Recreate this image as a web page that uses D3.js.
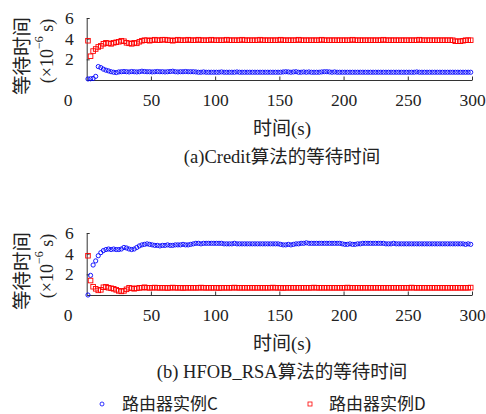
<!DOCTYPE html>
<html lang="zh">
<head>
<meta charset="UTF-8" />
<title>等待时间</title>
<script src="https://cdn.jsdelivr.net/npm/d3@7"></script>
<style>
  body { margin: 0; background: #fff; }
  svg text { font-family: "Liberation Serif", "Noto Sans CJK SC", serif; fill: #222; }
  .cjk { font-family: "Noto Sans CJK SC", sans-serif; }
</style>
</head>
<body>
<svg id="svg"></svg>
<script>
  // sample times (s), one point every 2 s
  const times = d3.range(1, 300, 2);
  const xTicks = [50, 100, 150, 200, 250, 300];
  const yTicks = [2, 4, 6];

  // (a) Credit
  const creditC = [
    0.1, 0.12, 0.15, 0.35, 1.3, 1.2, 1.05, 0.95, 0.88, 0.8,
    0.75, 0.72, 0.78, 0.8, 0.82, 0.8, 0.78, 0.82, 0.8, 0.78,
    0.8, 0.85, 0.82, 0.8, 0.8, 0.78, 0.8, 0.82, 0.8, 0.8,
    0.78, 0.8, 0.82, 0.85, 0.8, 0.78, 0.8, 0.8, 0.82, 0.8,
    0.8, 0.8, 0.78, 0.75, 0.75, 0.78, 0.75, 0.75, 0.75, 0.75,
    0.75, 0.75, 0.78, 0.75, 0.75, 0.75, 0.75, 0.75, 0.78, 0.75,
    0.75, 0.75, 0.75, 0.75, 0.75, 0.75, 0.75, 0.75, 0.75, 0.75,
    0.75, 0.75, 0.75, 0.75, 0.75, 0.75, 0.78, 0.8, 0.78, 0.75,
    0.78, 0.8, 0.75, 0.75, 0.78, 0.75, 0.78, 0.75, 0.75, 0.75,
    0.75, 0.78, 0.8, 0.8, 0.78, 0.75, 0.78, 0.75, 0.75, 0.75,
    0.75, 0.75, 0.75, 0.75, 0.75, 0.75, 0.75, 0.75, 0.75, 0.75,
    0.75, 0.75, 0.75, 0.75, 0.75, 0.75, 0.75, 0.75, 0.75, 0.75,
    0.75, 0.75, 0.75, 0.75, 0.75, 0.75, 0.75, 0.75, 0.78, 0.75,
    0.75, 0.75, 0.75, 0.75, 0.75, 0.75, 0.75, 0.75, 0.75, 0.75,
    0.75, 0.75, 0.75, 0.75, 0.75, 0.75, 0.75, 0.75, 0.75, 0.75
  ];
  const creditD = [
    3.8, 2.3, 2.8, 3.0, 3.2, 3.3, 3.5, 3.6, 3.55, 3.5,
    3.6, 3.65, 3.7, 3.8, 3.75, 3.6, 3.55, 3.5, 3.6, 3.55,
    3.7, 3.8, 3.85, 3.85, 3.8, 3.85, 3.9, 3.85, 3.85, 3.9,
    3.9, 3.85, 3.85, 3.8, 3.85, 3.9, 3.85, 3.85, 3.85, 3.9,
    3.85, 3.85, 3.85, 3.9, 3.85, 3.85, 3.85, 3.85, 3.9, 3.85,
    3.85, 3.85, 3.85, 3.85, 3.9, 3.85, 3.85, 3.85, 3.85, 3.85,
    3.9, 3.85, 3.85, 3.85, 3.85, 3.85, 3.85, 3.9, 3.85, 3.85,
    3.85, 3.85, 3.85, 3.85, 3.85, 3.9, 3.85, 3.85, 3.85, 3.85,
    3.85, 3.85, 3.9, 3.85, 3.85, 3.85, 3.85, 3.85, 3.85, 3.85,
    3.85, 3.9, 3.85, 3.85, 3.85, 3.85, 3.85, 3.85, 3.85, 3.85,
    3.85, 3.85, 3.85, 3.9, 3.85, 3.85, 3.85, 3.85, 3.85, 3.85,
    3.85, 3.85, 3.85, 3.85, 3.85, 3.9, 3.85, 3.85, 3.85, 3.85,
    3.85, 3.85, 3.85, 3.85, 3.85, 3.85, 3.85, 3.85, 3.85, 3.9,
    3.85, 3.85, 3.85, 3.85, 3.85, 3.85, 3.85, 3.85, 3.85, 3.85,
    3.85, 3.85, 3.85, 3.75, 3.75, 3.75, 3.8, 3.85, 3.85, 3.85
  ];

  // (b) HFOB_RSA
  const hfobC = [
    0, 1.9, 2.9, 3.3, 3.8, 4.1, 4.3, 4.4, 4.45, 4.4,
    4.45, 4.4, 4.4, 4.45, 4.6, 4.55, 4.45, 4.4, 4.45, 4.6,
    4.75, 4.85, 4.9, 4.95, 4.9, 4.85, 4.8, 4.8, 4.75, 4.8,
    4.8, 4.85, 4.8, 4.8, 4.85, 4.85, 4.85, 4.9, 4.85, 4.85,
    4.9, 4.95, 5.0, 5.0, 4.95, 5.0, 5.0, 5.0, 5.0, 5.0,
    5.0, 5.0, 5.0, 4.95, 4.95, 4.95, 4.95, 5.0, 4.95, 4.95,
    4.95, 4.95, 4.95, 4.95, 4.95, 4.95, 4.95, 4.95, 4.95, 4.95,
    4.95, 4.95, 4.95, 4.95, 4.95, 4.9, 4.85, 4.85, 4.9, 4.85,
    4.9, 4.95, 4.95, 5.0, 5.0, 5.05, 5.0, 5.0, 5.0, 5.0,
    5.0, 5.0, 5.0, 5.0, 5.0, 5.0, 5.0, 5.0, 5.0, 4.95,
    4.9, 4.9, 4.95, 4.9, 4.9, 4.95, 4.95, 5.0, 5.0, 5.0,
    5.0, 5.0, 5.0, 5.0, 5.0, 5.0, 4.95, 4.95, 4.95, 5.0,
    4.95, 4.95, 4.95, 4.95, 4.95, 4.95, 4.95, 4.95, 4.95, 4.95,
    4.95, 4.95, 4.95, 4.95, 4.95, 4.95, 4.95, 4.95, 4.95, 4.95,
    4.95, 4.95, 4.95, 4.95, 4.95, 4.95, 4.95, 4.9, 4.95, 4.9
  ];
  const hfobD = [
    3.8, 1.4, 0.8, 0.6, 0.45, 0.5, 0.75, 0.8, 0.7, 0.65,
    0.6, 0.5, 0.4, 0.35, 0.4, 0.55, 0.7, 0.65, 0.6, 0.65,
    0.7, 0.7, 0.75, 0.7, 0.7, 0.7, 0.72, 0.7, 0.7, 0.7,
    0.7, 0.68, 0.7, 0.72, 0.7, 0.7, 0.7, 0.68, 0.7, 0.7,
    0.7, 0.7, 0.7, 0.7, 0.72, 0.7, 0.7, 0.7, 0.7, 0.7,
    0.7, 0.68, 0.7, 0.7, 0.7, 0.7, 0.7, 0.72, 0.7, 0.7,
    0.7, 0.7, 0.7, 0.7, 0.7, 0.7, 0.7, 0.7, 0.7, 0.7,
    0.7, 0.7, 0.72, 0.7, 0.7, 0.7, 0.68, 0.7, 0.7, 0.7,
    0.7, 0.7, 0.7, 0.7, 0.7, 0.7, 0.7, 0.7, 0.72, 0.7,
    0.7, 0.7, 0.7, 0.7, 0.7, 0.7, 0.7, 0.7, 0.7, 0.7,
    0.7, 0.72, 0.7, 0.7, 0.7, 0.7, 0.7, 0.7, 0.7, 0.7,
    0.7, 0.7, 0.7, 0.7, 0.7, 0.7, 0.7, 0.7, 0.7, 0.7,
    0.7, 0.7, 0.7, 0.7, 0.7, 0.7, 0.72, 0.7, 0.7, 0.7,
    0.7, 0.7, 0.7, 0.7, 0.7, 0.7, 0.7, 0.7, 0.7, 0.7,
    0.7, 0.7, 0.7, 0.7, 0.7, 0.7, 0.7, 0.7, 0.7, 0.72
  ];

  const seriesNames = ["路由器实例C", "路由器实例D"];
  const blue = "#0000ff";
  const red = "#ff0000";

  const width = 486;
  const height = 414;
  const svg = d3.select("#svg").attr("width", width).attr("height", height);

  const x = d3.scaleLinear().domain([0, 300]).range([86.7, 472]);

  function drawPanel(top, valuesC, valuesD, prefix) {
    const y = d3.scaleLinear().domain([0, 6]).range([top + 62, top]);
    const g = svg.append("g");
    const y0 = y(0);

    // x axis, ticks pointing inward
    const xAxis = d3.axisBottom(x).tickValues(xTicks).tickSizeInner(-3.5).tickSizeOuter(0);
    const gx = g.append("g").attr("transform", `translate(0,${y0})`).call(xAxis);
    gx.select(".domain").attr("stroke", "#333");
    gx.selectAll(".tick line").attr("stroke", "#333");
    gx.selectAll(".tick text").attr("y", 14).attr("font-size", 17.5)
      .attr("font-family", "Liberation Serif").attr("fill", "#222");

    // y axis
    const yAxis = d3.axisLeft(y).tickValues(yTicks).tickFormat(d3.format("d"))
      .tickSizeInner(-3).tickSizeOuter(0).tickPadding(13);
    const gy = g.append("g").attr("transform", `translate(${x(0)},0)`).call(yAxis);
    gy.select(".domain").attr("stroke", "#333");
    gy.selectAll(".tick line").attr("stroke", "#333");
    gy.selectAll(".tick text").attr("font-size", 17.5)
      .attr("font-family", "Liberation Serif").attr("fill", "#222");

    // the lone 0 label sitting on the x tick row
    g.append("text").text("0").attr("x", 68).attr("y", y0 + 20)
      .attr("dy", "0.35em").attr("text-anchor", "middle").attr("font-size", 17.5);

    // y title, two rotated lines
    const cy = (y(6) + y0) / 2 + 5;
    g.append("text").attr("class", "cjk").text("等待时间")
      .attr("transform", `translate(22,${cy + 2}) rotate(-90)`)
      .attr("text-anchor", "middle").attr("dy", "0.35em").attr("font-size", 19.5);
    const t2 = g.append("text")
      .attr("transform", `translate(47,${cy - 3}) rotate(-90)`)
      .attr("text-anchor", "middle").attr("dy", "0.35em").attr("font-size", 18);
    t2.append("tspan").text("(×10");
    t2.append("tspan").text("−6").attr("font-size", 12).attr("dy", "-0.9em");
    t2.append("tspan").text(" s)").attr("dy", "0.6em");

    // x title
    g.append("text").attr("x", 282).attr("y", y0 + 48).attr("text-anchor", "middle")
      .attr("dy", "0.35em").attr("font-size", 19)
      .call((t) => {
        t.append("tspan").attr("class", "cjk").text("时间");
        t.append("tspan").text("(s)");
      });

    // caption
    g.append("text").attr("x", 282).attr("y", y0 + 77).attr("text-anchor", "middle")
      .attr("dy", "0.35em").attr("font-size", 18.5)
      .call((t) => {
        t.append("tspan").text(prefix);
        t.append("tspan").attr("class", "cjk").text("算法的等待时间");
      });

    // series C circles
    g.append("g").selectAll("circle").data(valuesC).join("circle")
      .attr("cx", (d, i) => x(times[i])).attr("cy", (d) => y(d)).attr("r", 2.1)
      .attr("fill", "none").attr("stroke", blue).attr("stroke-width", 0.9);

    // series D squares
    g.append("g").selectAll("rect").data(valuesD).join("rect")
      .attr("x", (d, i) => x(times[i]) - 2.3).attr("y", (d) => y(d) - 2.3)
      .attr("width", 4.6).attr("height", 4.6)
      .attr("fill", "none").attr("stroke", red).attr("stroke-width", 0.9);
  }

  drawPanel(18, creditC, creditD, "(a)Credit");
  drawPanel(233, hfobC, hfobD, "(b) HFOB_RSA");

  // legend
  const legend = svg.append("g").attr("transform", "translate(0,404)");
  legend.append("circle").attr("cx", 102).attr("cy", 0).attr("r", 2)
    .attr("fill", "none").attr("stroke", blue).attr("stroke-width", 0.8);
  legend.append("text").attr("class", "cjk").attr("x", 122).attr("y", 0).attr("dy", "0.35em")
    .attr("font-size", 17).text(seriesNames[0]);
  legend.append("rect").attr("x", 308).attr("y", -2).attr("width", 4).attr("height", 4)
    .attr("fill", "none").attr("stroke", red).attr("stroke-width", 0.8);
  legend.append("text").attr("class", "cjk").attr("x", 329).attr("y", 0).attr("dy", "0.35em")
    .attr("font-size", 17).text(seriesNames[1]);
</script>
</body>
</html>
